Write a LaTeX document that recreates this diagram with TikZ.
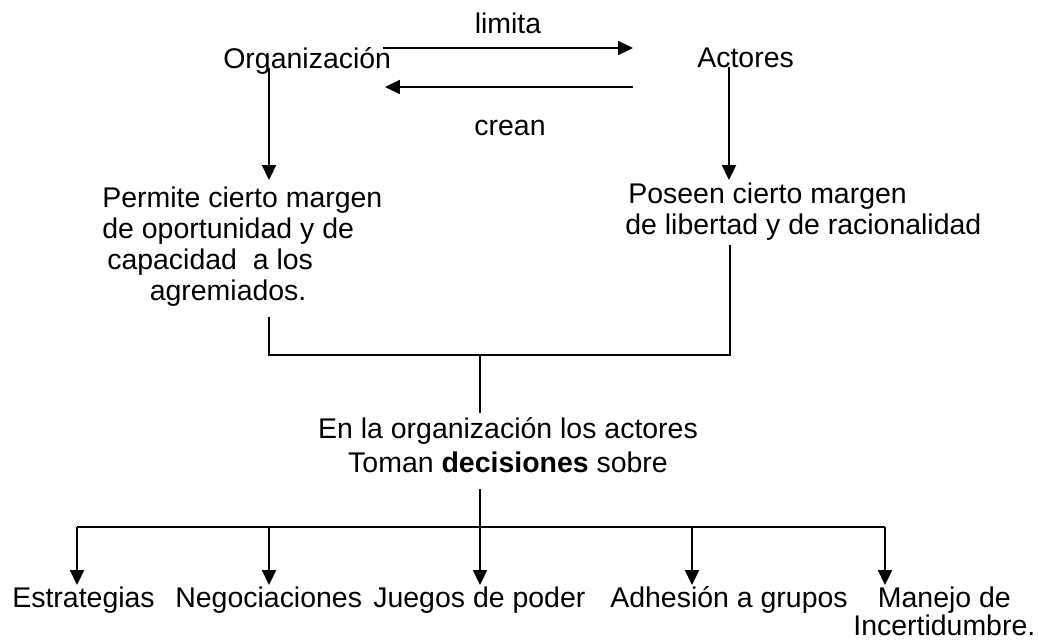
\documentclass[tikz,border=0pt]{standalone}
\usepackage{fontspec}
\setmainfont{Liberation Sans}
\usetikzlibrary{arrows.meta}

\tikzset{
  texto/.style={inner sep=0pt, font=\fontsize{16.2}{17.6}\selectfont},
  linea/.style={line width=1pt},
  flecha/.style={line width=1pt, -{Triangle[length=8.5pt, width=8pt]}}
}

\begin{document}
\begin{tikzpicture}[x=0.02cm, y=-0.02cm]
			%%%%% START %%%%%
			\useasboundingbox (0,0) rectangle (1038,643);
			
			\node[texto, anchor=base west] (org) at (223,68) {Organización};
			\node[texto, anchor=base west] (act) at (697,67) {Actores};
			\node[texto, anchor=base] (limita) at (508,33) {limita};
			\node[texto, anchor=base] (crean) at (510,135) {crean};
			
			\coordinate (o1) at (383,48);
			\coordinate (a1) at (633,48);
			\coordinate (a2) at (633,87);
			\coordinate (o2) at (385,87);
			\draw[flecha] (o1) -- (a1);
			\draw[flecha] (a2) -- (o2);
			
			% base = ultima linea
			\node[texto, anchor=base west, align=left] (permite) at (102,300)
			  {Permite cierto margen\\de oportunidad y de\\\hspace*{2.8pt}capacidad\ \ a los\\\hspace*{27pt}agremiados.};
			\node[texto, anchor=base west, align=left] (poseen) at (625,234)
			  {\hspace*{1.7pt}Poseen cierto margen\\de libertad y de racionalidad};
			
			\draw[flecha] (269,68) -- (269,180);
			\draw[flecha] (729,67) -- (729,180);
			
			% union de los dos lados
			\coordinate (ja) at (480,355);
			\coordinate (pl) at (269,317);
			\coordinate (pr) at (730,245);
			\draw[linea] (pl) |- (ja) -| (pr);
			\draw[linea] (ja) -- (480,413);
			
			\node[texto, anchor=base, align=center] (en) at (508,472)
			  {En la organización los actores\\[1.7pt]Toman \textbf{decisiones} sobre};
			
			\coordinate (jb) at (480,527);
			\draw[linea] (480,489) -- (jb);
			\draw[linea] (77,527) -- (885,527);
			\draw[flecha] (77,527) -- (77,585);
			\draw[flecha] (269,527) -- (269,585);
			\draw[flecha] (jb) -- (480,585);
			\draw[flecha] (692,527) -- (692,585);
			\draw[flecha] (885,527) -- (885,585);
			
			\node[texto, anchor=base west] (estr) at (12,607) {Estrategias};
			\node[texto, anchor=base west] (nego) at (175,607) {Negociaciones};
			\node[texto, anchor=base west] (juegos) at (373,607) {Juegos de poder};
			\node[texto, anchor=base west] (adhes) at (610,607) {Adhesión a grupos};
			\node[texto, anchor=base west, align=left] (manejo) at (853,635)
			  {\hspace*{14pt}Manejo de\\[-1.7pt]Incertidumbre.};
			
			%%%%% END %%%%%
\end{tikzpicture}
\end{document}
